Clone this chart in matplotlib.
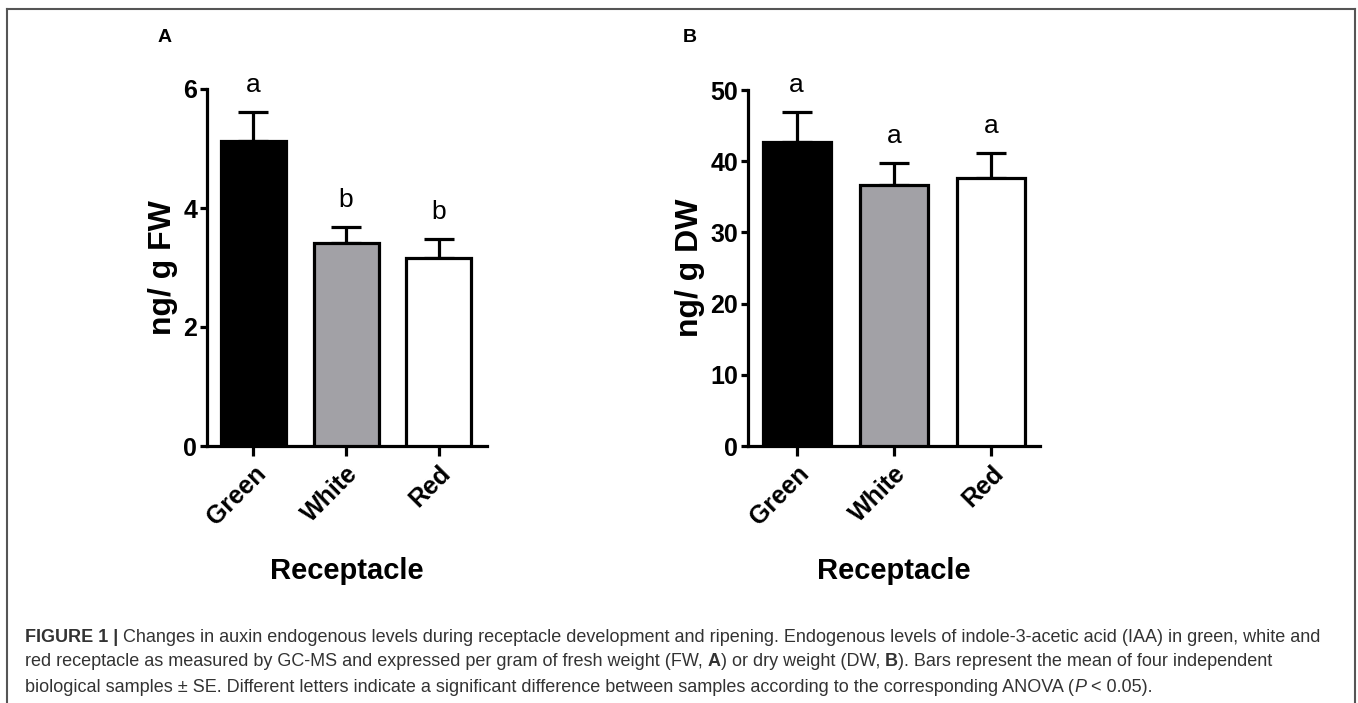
import matplotlib
matplotlib.use("Agg")
import matplotlib.pyplot as plt
from matplotlib.lines import Line2D
from matplotlib import font_manager

names = {f.name for f in font_manager.fontManager.ttflist}
narrow = 'Liberation Sans Narrow' if 'Liberation Sans Narrow' in names else 'Liberation Sans'
plt.rcParams['font.family'] = [narrow, 'DejaVu Sans']

# data
stages = ['Green', 'White', 'Red']
colors = ['black', '#a2a1a6', 'white']
fw_mean = [5.12, 3.41, 3.16]
fw_se = [0.50, 0.27, 0.32]
fw_letters = ['a', 'b', 'b']
dw_mean = [42.7, 36.7, 37.6]
dw_se = [4.2, 3.0, 3.6]
dw_letters = ['a', 'a', 'a']

fig = plt.figure(figsize=(13.58, 7.03), dpi=100)
W, H = 1358, 703

def px_axes(left, right, top, bottom):
    return fig.add_axes([left / W, 1 - bottom / H, (right - left) / W, (bottom - top) / H])

axA = px_axes(207, 487, 89, 446)
axB = px_axes(748, 1040, 90, 446)

def panel(ax, mean, se, letters, ymax, yticks, ylabel, xlim, letter_off):
    x = range(len(stages))
    ax.bar(x, mean, width=0.7, color=colors, edgecolor='black', linewidth=2.3, zorder=3)
    ax.errorbar(x, mean, yerr=[[0] * len(se), se], fmt='none', ecolor='black',
                elinewidth=2.3, capsize=10.5, capthick=2.3, zorder=2)
    for i in x:
        ax.text(i, mean[i] + se[i] + letter_off, letters[i], ha='center', va='bottom',
                fontsize=19, family='Liberation Sans')
    ax.set_ylim(0, ymax)
    ax.set_xlim(*xlim)
    ax.set_yticks(yticks)
    ax.set_xticks(list(x))
    ax.set_xticklabels(stages, rotation=45, ha='right', rotation_mode='anchor',
                       fontsize=18, fontweight='bold')
    for t in ax.get_yticklabels():
        t.set_fontsize(18)
        t.set_fontweight('bold')
    for s in ['top', 'right']:
        ax.spines[s].set_visible(False)
    for s in ['left', 'bottom']:
        ax.spines[s].set_linewidth(2.3)
    ax.tick_params(axis='y', length=5, width=2.3, pad=2)
    ax.tick_params(axis='x', length=7, width=2.3, pad=4)
    ax.set_ylabel(ylabel, fontsize=23, fontweight='bold', labelpad=4)
    ax.set_xlabel('Receptacle', fontsize=21, fontweight='bold', labelpad=20)

panel(axA, fw_mean, fw_se, fw_letters, 6, [0, 2, 4, 6], 'ng/ g FW', (-0.5, 2.52), 0.25)
panel(axB, dw_mean, dw_se, dw_letters, 50, [0, 10, 20, 30, 40, 50], 'ng/ g DW', (-0.5, 2.5), 2.1)

fig.text(158 / W, 1 - 37 / H, 'A', fontsize=14, fontweight='bold', family='Liberation Sans',
         ha='left', va='center')
fig.text(683 / W, 1 - 37 / H, 'B', fontsize=14, fontweight='bold', family='Liberation Sans',
         ha='left', va='center')

# frame around figure
frame_c = '#555555'
for xs, ys in [([7, 7], [9, 710]), ([7, 1355], [9, 9]), ([1355, 1355], [9, 710])]:
    fig.add_artist(Line2D([v / W for v in xs], [1 - v / H for v in ys], color=frame_c,
                          linewidth=1.5, transform=fig.transFigure))

# caption drawn piece by piece so bold/italic words can sit inline
cap_color = '#333333'
cap_size = 13
lines = [
    [('FIGURE 1 |', 'bold', 'normal'),
     ('Changes in auxin endogenous levels during receptacle development and ripening. '
      'Endogenous levels of indole-3-acetic acid (IAA) in green, white and', 'normal', 'normal')],
    [('red receptacle as measured by GC-MS and expressed per gram of fresh weight (FW,', 'normal', 'normal'),
     ('A', 'bold', 'normal'), (') or dry weight (DW,', 'normal', 'normal'), ('B', 'bold', 'normal'),
     ('). Bars represent the mean of four independent', 'normal', 'normal')],
    [('biological samples \u00b1 SE. Different letters indicate a significant difference between '
      'samples according to the corresponding ANOVA (', 'normal', 'normal'), ('P', 'normal', 'italic'),
     ('< 0.05).', 'normal', 'normal')],
]
# whether a space goes before each piece
spaces = [[False, True], [False, True, False, True, False], [False, False, True]]
renderer = fig.canvas.get_renderer()
probe = fig.text(0, 0, 'a a', fontsize=cap_size)
w1 = probe.get_window_extent(renderer).width
probe.set_text('aa')
space_w = w1 - probe.get_window_extent(renderer).width
probe.remove()

y_lines = [637, 662, 687]
for line, sp, yl in zip(lines, spaces, y_lines):
    xpos = 25
    for (txt, wt, st), s in zip(line, sp):
        if s:
            xpos += space_w
        t = fig.text(xpos / W, 1 - yl / H, txt, fontsize=cap_size, fontweight=wt, fontstyle=st,
                     color=cap_color, ha='left', va='center')
        xpos += t.get_window_extent(renderer).width

fig.savefig('out.png', dpi=100)
